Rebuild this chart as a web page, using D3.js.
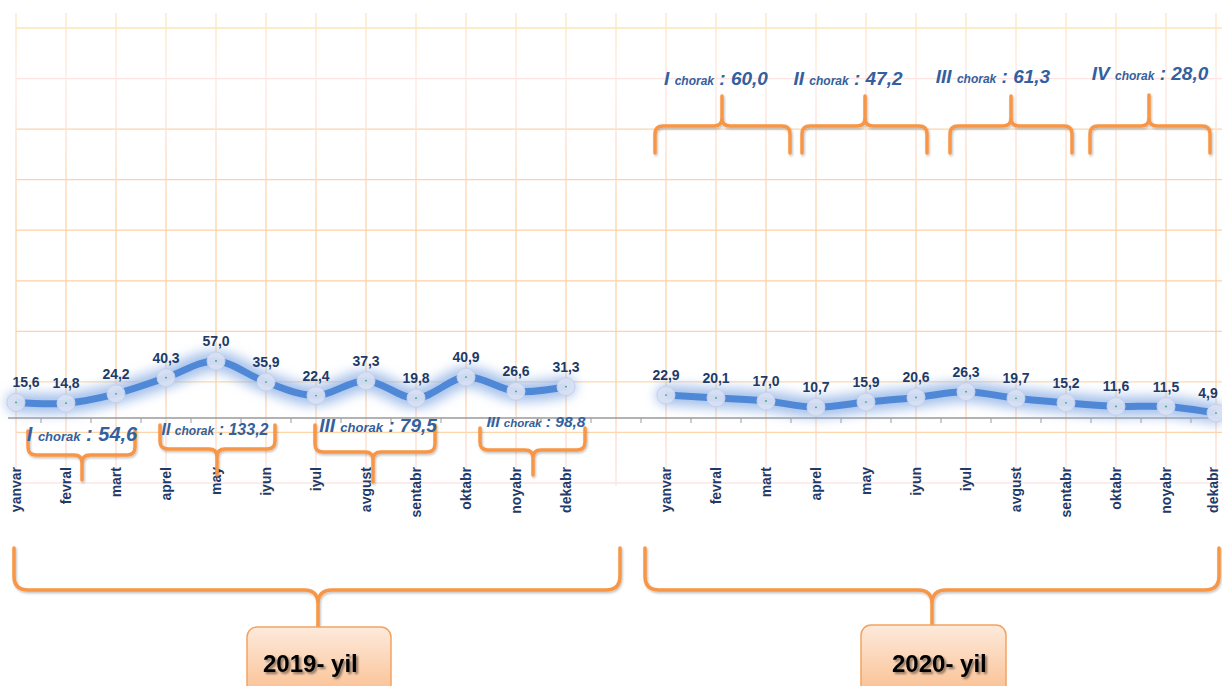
<!DOCTYPE html>
<html>
<head>
<meta charset="utf-8">
<script src="https://cdn.jsdelivr.net/npm/d3@7"></script>
<style>
  html, body { margin: 0; padding: 0; background: #fff; }
  svg { display: block; font-family: "Liberation Sans", Arial, sans-serif; }
</style>
</head>
<body>
<svg id="chart" width="1222" height="686"></svg>
<script>
// oylar va qiymatlar
const months = ["yanvar", "fevral", "mart", "aprel", "may", "iyun", "iyul", "avgust", "sentabr", "oktabr", "noyabr", "dekabr"];
const values2019 = [15.6, 14.8, 24.2, 40.3, 57.0, 35.9, 22.4, 37.3, 19.8, 40.9, 26.6, 31.3];
const values2020 = [22.9, 20.1, 17.0, 10.7, 15.9, 20.6, 26.3, 19.7, 15.2, 11.6, 11.5, 4.9];

// choraklar
const quarterNames2019 = ["I", "II", "III", "III"];
const quarterValues2019 = [54.6, 133.2, 79.5, 98.8];
const quarterNames2020 = ["I", "II", "III", "IV"];
const quarterValues2020 = [60.0, 47.2, 61.3, 28.0];

const yearLabels = ["2019- yil", "2020- yil"];

const fmt = (v) => v.toFixed(1).replace(".", ",");

const svg = d3.select("#chart");
const defs = svg.append("defs");

// kategoriyalar: 12 oy + bo'sh joy + 12 oy
const keys = [
  ...months.map((m) => "2019-" + m),
  "gap",
  ...months.map((m) => "2020-" + m)
];
const x = d3.scalePoint().domain(keys).range([16, 1216]);
const y = d3.scaleLinear().domain([0, 60]).range([418, 358]);
const gridY = d3.scaleLinear().domain([0, 9]).range([483, 28]);

// gradientlar
const vGrad = defs.append("linearGradient")
  .attr("id", "vgrid").attr("gradientUnits", "userSpaceOnUse")
  .attr("x1", 0).attr("y1", 13).attr("x2", 0).attr("y2", 486);
vGrad.append("stop").attr("offset", 0).attr("stop-color", "#fde6bc");
vGrad.append("stop").attr("offset", 0.15).attr("stop-color", "#fde8e6");
vGrad.append("stop").attr("offset", 0.45).attr("stop-color", "#fcd2a4");
vGrad.append("stop").attr("offset", 0.8).attr("stop-color", "#fbd3ad");
vGrad.append("stop").attr("offset", 1).attr("stop-color", "#fde3e6");

const boxGrad = defs.append("linearGradient")
  .attr("id", "boxgrad").attr("x1", 0).attr("y1", 0).attr("x2", 0).attr("y2", 1);
boxGrad.append("stop").attr("offset", 0).attr("stop-color", "#fdeadc");
boxGrad.append("stop").attr("offset", 1).attr("stop-color", "#fab985");

defs.append("filter").attr("id", "glow")
  .attr("x", "-10%").attr("y", "-200%").attr("width", "120%").attr("height", "500%")
  .append("feGaussianBlur").attr("stdDeviation", 6);

defs.append("filter").attr("id", "shadow")
  .attr("x", "-10%").attr("y", "-10%").attr("width", "130%").attr("height", "130%")
  .append("feDropShadow").attr("dx", 1).attr("dy", 1.5).attr("stdDeviation", 1)
  .attr("flood-color", "#000").attr("flood-opacity", 0.25);

defs.append("filter").attr("id", "txtshadow")
  .attr("x", "-10%").attr("y", "-20%").attr("width", "130%").attr("height", "150%")
  .append("feDropShadow").attr("dx", 2).attr("dy", 2).attr("stdDeviation", 1.2)
  .attr("flood-color", "#000").attr("flood-opacity", 0.45);

// setka
const grid = svg.append("g").attr("class", "grid");
const hColors = ["#fde3b4", "#fde4e2", "#fcd6ab", "#fcd3a6", "#fcd3a6", "#fcd1a2", "#fcd4a6", "#fcd9b3", "#fcd5a9", "#fde6e6"];
grid.selectAll(".h")
  .data(d3.range(10))
  .join("line")
  .attr("x1", 16).attr("x2", 1222)
  .attr("y1", (d) => gridY(9 - d)).attr("y2", (d) => gridY(9 - d))
  .attr("stroke", (d) => hColors[d])
  .attr("stroke-width", 1.3);

grid.selectAll(".v")
  .data(keys)
  .join("line")
  .attr("x1", (d) => x(d)).attr("x2", (d) => x(d))
  .attr("y1", 13).attr("y2", 486)
  .attr("stroke", "url(#vgrid)")
  .attr("stroke-width", 1.3);

// o'q
const axis = svg.append("g").attr("class", "axis");
axis.append("line")
  .attr("x1", 8).attr("x2", 1222)
  .attr("y1", y(0)).attr("y2", y(0))
  .attr("stroke", "#9a9a9a").attr("stroke-width", 1.5);
axis.selectAll(".tick")
  .data(keys.slice(0, -1))
  .join("line")
  .attr("x1", (d) => x(d) + x.step() / 2).attr("x2", (d) => x(d) + x.step() / 2)
  .attr("y1", y(0)).attr("y2", y(0) + 5)
  .attr("stroke", "#9a9a9a").attr("stroke-width", 1);

// oy nomlari
svg.append("g").selectAll("text")
  .data(keys.filter((k) => k !== "gap"))
  .join("text")
  .attr("transform", (d) => `translate(${Math.min(x(d), 1213)}, 467) rotate(-90)`)
  .attr("dy", "0.36em")
  .attr("text-anchor", "end")
  .attr("font-size", 14)
  .attr("font-weight", "bold")
  .attr("fill", "#1f3a68")
  .text((d) => d.split("-")[1]);

// chiziqlar
const series = [
  values2019.map((v, i) => ({ key: "2019-" + months[i], v })),
  values2020.map((v, i) => ({ key: "2020-" + months[i], v }))
];

const line = d3.line()
  .x((d) => x(d.key))
  .y((d) => y(d.v))
  .curve(d3.curveCardinal.tension(0));

const lines = svg.append("g").attr("class", "lines");
lines.selectAll(".glow")
  .data(series)
  .join("path")
  .attr("d", line)
  .attr("fill", "none")
  .attr("stroke", "#8fb1e6")
  .attr("stroke-opacity", 0.8)
  .attr("stroke-width", 20)
  .attr("stroke-linecap", "round")
  .attr("filter", "url(#glow)");

lines.selectAll(".main")
  .data(series)
  .join("path")
  .attr("d", line)
  .attr("fill", "none")
  .attr("stroke", "#4f88d6")
  .attr("stroke-width", 7);

const points = series.flat();
lines.selectAll(".marker")
  .data(points)
  .join("circle")
  .attr("cx", (d) => x(d.key))
  .attr("cy", (d) => y(d.v))
  .attr("r", 9)
  .attr("fill", "#d9e1f3")
  .attr("fill-opacity", 0.92)
  .attr("stroke", "#c3d1ee")
  .attr("stroke-width", 1);
lines.selectAll(".dot")
  .data(points)
  .join("circle")
  .attr("cx", (d) => x(d.key))
  .attr("cy", (d) => y(d.v))
  .attr("r", 0.9)
  .attr("fill", "#3aa37a");

// qiymat yorliqlari
lines.selectAll(".lbl")
  .data(points)
  .join("text")
  .attr("x", (d) => Math.min(Math.max(x(d.key), 26), 1208))
  .attr("y", (d) => y(d.v) - 15)
  .attr("text-anchor", "middle")
  .attr("font-size", 14)
  .attr("font-weight", "bold")
  .attr("fill", "#1f3a68")
  .text((d) => fmt(d.v));

// qavslar
function brace(b) {
  const s = Math.sign(b.yMid - b.yEnd);
  const r = b.r;
  return `M${b.x0},${b.yEnd} V${b.yMid - s * r} Q${b.x0},${b.yMid} ${b.x0 + r},${b.yMid}` +
    ` H${b.tip - r} Q${b.tip},${b.yMid} ${b.tip},${b.yMid + s * r} V${b.yTip}` +
    ` M${b.x1},${b.yEnd} V${b.yMid - s * r} Q${b.x1},${b.yMid} ${b.x1 - r},${b.yMid}` +
    ` H${b.tip + r} Q${b.tip},${b.yMid} ${b.tip},${b.yMid + s * r}`;
}

const braces2019 = [
  { x0: 28, x1: 135, tip: 82, yEnd: 431, yMid: 455, yTip: 480, r: 8 },
  { x0: 160, x1: 275, tip: 217, yEnd: 425, yMid: 449, yTip: 475, r: 8 },
  { x0: 315, x1: 435, tip: 373, yEnd: 425, yMid: 452, yTip: 482, r: 8 },
  { x0: 480, x1: 585, tip: 533, yEnd: 428, yMid: 450, yTip: 475, r: 8 }
];
const braces2020 = [
  { x0: 655, x1: 790, tip: 722, yEnd: 153, yMid: 126, yTip: 96, r: 8 },
  { x0: 802, x1: 927, tip: 865, yEnd: 153, yMid: 126, yTip: 96, r: 8 },
  { x0: 950, x1: 1072, tip: 1011, yEnd: 153, yMid: 126, yTip: 96, r: 8 },
  { x0: 1090, x1: 1210, tip: 1149, yEnd: 153, yMid: 126, yTip: 95, r: 8 }
];
const bigBraces = [
  { x0: 14, x1: 620, tip: 318, yEnd: 548, yMid: 590, yTip: 628, r: 14 },
  { x0: 645, x1: 1219, tip: 932, yEnd: 548, yMid: 590, yTip: 626, r: 14 }
];

svg.append("g").attr("class", "braces")
  .selectAll("path")
  .data([...braces2019, ...braces2020, ...bigBraces])
  .join("path")
  .attr("d", brace)
  .attr("fill", "none")
  .attr("stroke", "#f79646")
  .attr("stroke-width", 3.5)
  .attr("stroke-linecap", "round")
  .attr("filter", "url(#shadow)");

// chorak yozuvlari
const qText2019 = [
  { tip: 82, y: 441, big: 20, small: 13 },
  { tip: 215, y: 435, big: 16, small: 12 },
  { tip: 378, y: 432, big: 19, small: 13 },
  { tip: 536, y: 427, big: 15.5, small: 11.5 }
];
const qText2020 = [
  { tip: 716, y: 85, big: 19, small: 12 },
  { tip: 848, y: 85, big: 19, small: 12 },
  { tip: 993, y: 83, big: 19, small: 12 },
  { tip: 1150, y: 80, big: 19, small: 12 }
];

const qData = [
  ...quarterNames2019.map((n, i) => ({ name: n, value: quarterValues2019[i], ...qText2019[i] })),
  ...quarterNames2020.map((n, i) => ({ name: n, value: quarterValues2020[i], ...qText2020[i] }))
];

const qt = svg.append("g").attr("class", "quarters")
  .selectAll("text")
  .data(qData)
  .join("text")
  .attr("x", (d) => d.tip)
  .attr("y", (d) => d.y)
  .attr("text-anchor", "middle")
  .attr("font-weight", "bold")
  .attr("font-style", "italic")
  .attr("fill", "#33609e");
qt.append("tspan").attr("font-size", (d) => d.big).text((d) => d.name + " ");
qt.append("tspan").attr("font-size", (d) => d.small).text("chorak");
qt.append("tspan").attr("font-size", (d) => d.big).text((d) => " : " + fmt(d.value));

// yil qutilari
const boxes = [
  { x: 247, y: 627, w: 144, tx: 263 },
  { x: 861, y: 625, w: 145, tx: 892 }
];
const yb = svg.append("g").attr("class", "years")
  .selectAll("g")
  .data(yearLabels)
  .join("g");
yb.append("rect")
  .attr("x", (d, i) => boxes[i].x)
  .attr("y", (d, i) => boxes[i].y)
  .attr("width", (d, i) => boxes[i].w)
  .attr("height", 80)
  .attr("rx", 10)
  .attr("fill", "url(#boxgrad)")
  .attr("stroke", "#f4a262")
  .attr("stroke-width", 1.5);
yb.append("text")
  .attr("x", (d, i) => boxes[i].tx)
  .attr("y", 672)
  .attr("font-size", 24)
  .attr("font-weight", "bold")
  .attr("fill", "#000")
  .attr("filter", "url(#txtshadow)")
  .text((d) => d);
</script>
</body>
</html>
